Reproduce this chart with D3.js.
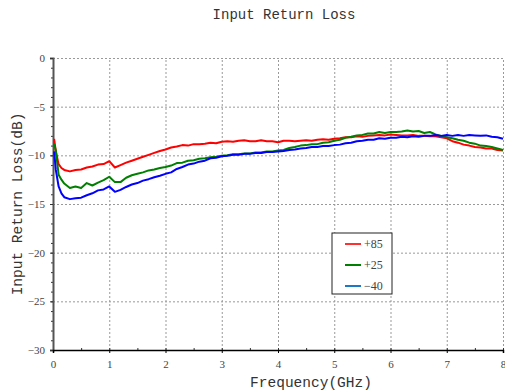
<!DOCTYPE html>
<html lang="en">
<head>
<meta charset="utf-8">
<title>Input Return Loss</title>
<script src="https://cdn.jsdelivr.net/npm/d3@7"></script>
<style>
  body { margin: 0; background: #fff; }
  svg { display: block; }
  text { font-family: "Liberation Mono", "DejaVu Sans Mono", monospace; fill: #333; }
  .grid line { stroke: #999; stroke-dasharray: 2 2; stroke-width: 1; }
  .grid path { display: none; }
</style>
</head>
<body>
<svg width="505" height="392"></svg>
<script>
// frequency points (GHz)
var freq = [0.02, 0.05, 0.1, 0.15, 0.2, 0.3, 0.4, 0.5, 0.6, 0.7, 0.8, 0.9, 1.0,
  1.1, 1.2, 1.3, 1.4, 1.5, 1.6, 1.7, 1.8, 1.9, 2.0, 2.1, 2.2, 2.3, 2.4, 2.5, 2.6, 2.7, 2.8, 2.9, 3.0,
  3.1, 3.2, 3.3, 3.4, 3.5, 3.6, 3.7, 3.8, 3.9, 4.0, 4.1, 4.2, 4.3, 4.4, 4.5, 4.6, 4.7, 4.8, 4.9, 5.0,
  5.1, 5.2, 5.3, 5.4, 5.5, 5.6, 5.7, 5.8, 5.9, 6.0, 6.1, 6.2, 6.3, 6.4, 6.5, 6.6, 6.7, 6.8, 6.9, 7.0,
  7.1, 7.2, 7.3, 7.4, 7.5, 7.6, 7.7, 7.8, 7.9, 8.0];

// return loss, dB
var p85 = [-8.3, -9.6, -10.9, -11.3, -11.5, -11.65, -11.5, -11.45, -11.25, -11.15, -10.95, -10.9, -10.6,
  -11.25, -11.0, -10.75, -10.55, -10.35, -10.15, -9.95, -9.75, -9.55, -9.4, -9.2, -9.1, -8.95, -9.0, -8.85, -8.85, -8.8, -8.7, -8.75, -8.6,
  -8.55, -8.6, -8.5, -8.45, -8.55, -8.55, -8.45, -8.55, -8.55, -8.65, -8.5, -8.5, -8.55, -8.5, -8.45, -8.5, -8.4, -8.35, -8.4, -8.3,
  -8.25, -8.15, -8.15, -8.05, -8.1, -8.0, -7.95, -7.9, -7.95, -7.85, -7.9, -7.95, -7.95, -7.9, -8.0, -8.0, -8.05, -8.05, -8.15, -8.25,
  -8.55, -8.7, -8.9, -9.0, -9.15, -9.2, -9.3, -9.3, -9.45, -9.5];
var p25 = [-8.8, -9.5, -12.0, -12.5, -12.9, -13.35, -13.2, -13.35, -12.85, -13.1, -12.8, -12.55, -12.2,
  -12.75, -12.75, -12.3, -12.05, -11.9, -11.75, -11.55, -11.45, -11.3, -11.2, -11.05, -10.8, -10.75, -10.55, -10.5, -10.35, -10.3, -10.2, -10.15, -10.05,
  -10.0, -9.9, -9.9, -9.8, -9.8, -9.7, -9.7, -9.6, -9.6, -9.5, -9.45, -9.25, -9.15, -9.0, -8.95, -8.85, -8.85, -8.7, -8.65, -8.5,
  -8.4, -8.2, -8.1, -7.95, -7.9, -7.75, -7.75, -7.6, -7.7, -7.6, -7.6, -7.55, -7.45, -7.55, -7.5, -7.7, -7.6, -7.85, -8.0, -8.15,
  -8.25, -8.4, -8.5, -8.7, -8.8, -9.0, -9.05, -9.15, -9.3, -9.45];
var m40 = [-9.6, -11.5, -13.2, -13.9, -14.3, -14.5, -14.4, -14.35, -14.1, -13.9, -13.6, -13.5, -13.2,
  -13.75, -13.55, -13.25, -13.0, -12.85, -12.6, -12.45, -12.25, -12.1, -11.9, -11.75, -11.4, -11.2, -10.95, -10.85, -10.65, -10.55, -10.3, -10.25, -10.1,
  -10.05, -9.95, -9.95, -9.85, -9.85, -9.75, -9.75, -9.65, -9.65, -9.6, -9.55, -9.45, -9.4, -9.3, -9.25, -9.15, -9.15, -9.05, -9.05, -8.95,
  -8.9, -8.75, -8.7, -8.55, -8.5, -8.4, -8.4, -8.25, -8.3, -8.2, -8.2, -8.1, -8.15, -8.05, -8.1, -8.0, -8.0, -7.9, -8.0, -7.9,
  -8.0, -7.9, -8.0, -7.9, -7.95, -8.0, -7.95, -8.1, -8.15, -8.3];

var names = ['+85', '+25', '\u221240'];
var lineColors = ['#ff0000', '#008000', '#0000ff'];
var keyColors = ['#ff3030', '#008000', '#1e78c8'];
var xTicks = [0, 1, 2, 3, 4, 5, 6, 7, 8];
var yTicks = [0, -5, -10, -15, -20, -25, -30];

var svg = d3.select('svg');
var plotL = 53, plotR = 503, plotT = 58, plotB = 350;

var x = d3.scaleLinear().domain([0, 8]).range([plotL, plotR]);
var y = d3.scaleLinear().domain([-30, 0]).range([plotB, plotT]);
var fmt = d => d < 0 ? '\u2212' + Math.abs(d) : '' + d;

// grid
svg.append('g').attr('class', 'grid')
  .attr('transform', `translate(0,${plotB})`)
  .call(d3.axisBottom(x).tickValues(xTicks.slice(1)).tickSize(-(plotB - plotT)).tickFormat(''));
svg.append('g').attr('class', 'grid')
  .attr('transform', `translate(${plotL},0)`)
  .call(d3.axisLeft(y).tickValues(yTicks.slice(0, -1)).tickSize(-(plotR - plotL)).tickFormat(''));

// minor ticks
svg.append('g')
  .attr('transform', `translate(${plotL},0)`)
  .call(d3.axisLeft(y).ticks(30).tickSize(2).tickFormat(''))
  .call(g => g.select('.domain').remove())
  .selectAll('line').attr('stroke', '#333');
svg.append('g')
  .attr('transform', `translate(0,${plotB})`)
  .call(d3.axisBottom(x).ticks(16).tickSize(-2).tickFormat(''))
  .call(g => g.select('.domain').remove())
  .selectAll('line').attr('stroke', '#333');

// axes
var yAxis = svg.append('g')
  .attr('transform', `translate(${plotL},0)`)
  .call(d3.axisLeft(y).tickValues(yTicks).tickSize(3).tickPadding(5).tickFormat(fmt));
yAxis.select('.domain').attr('stroke', '#555').attr('stroke-width', 2);
yAxis.selectAll('.tick line').attr('stroke', '#333');

var xAxis = svg.append('g')
  .attr('transform', `translate(0,${plotB})`)
  .call(d3.axisBottom(x).tickValues(xTicks).tickSize(3).tickPadding(7).tickFormat(fmt));
xAxis.select('.domain').attr('stroke', '#000').attr('stroke-width', 1.5);

svg.selectAll('.tick text')
  .style('font-family', '"Liberation Serif", "DejaVu Serif", serif')
  .style('font-size', '11px')
  .style('fill', '#444');

// curves
var line = d3.line().x((d, i) => x(freq[i])).y(d => y(d));
[p85, p25, m40].forEach(function (s, k) {
  svg.append('path')
    .datum(s)
    .attr('d', line)
    .attr('fill', 'none')
    .attr('stroke', lineColors[k])
    .attr('stroke-width', 2)
    .attr('stroke-linejoin', 'round');
});

// legend
var lg = svg.append('g').attr('transform', 'translate(332,233)');
lg.append('rect').attr('width', 60).attr('height', 61)
  .attr('fill', '#fff').attr('stroke', '#222').attr('stroke-width', 1);
names.forEach(function (n, k) {
  var yy = 11 + k * 21;
  lg.append('line').attr('x1', 13).attr('x2', 29).attr('y1', yy).attr('y2', yy)
    .attr('stroke', keyColors[k]).attr('stroke-width', 2);
  lg.append('text').attr('x', 32).attr('y', yy + 4)
    .style('font-family', '"Liberation Serif", serif').style('font-size', '12px')
    .style('fill', '#444').text(n);
});

// titles
svg.append('text').attr('x', 284).attr('y', 19).attr('text-anchor', 'middle')
  .style('font-size', '14px').text('Input Return Loss');
svg.append('text').attr('x', 311).attr('y', 387).attr('text-anchor', 'middle')
  .style('font-size', '14.5px').text('Frequency(GHz)');
svg.append('text').attr('transform', 'translate(22,204) rotate(-90)').attr('text-anchor', 'middle')
  .style('font-size', '14.5px').text('Input Return Loss(dB)');
</script>
</body>
</html>
